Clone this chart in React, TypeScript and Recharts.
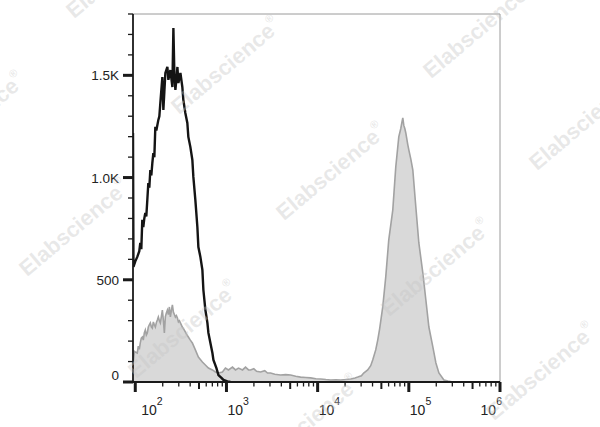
import React from "react";
import { ComposedChart, Area, Line, XAxis, YAxis, ReferenceLine } from "recharts";

// x values are log10 of fluorescence intensity
const xMajorDecades = [2, 3, 4, 5, 6];
const xMinorMultipliers = [2, 3, 4, 5, 6, 7, 8, 9];
const yTickValues = [0, 100, 200, 300, 400, 500, 600, 700, 800, 900, 1000, 1100, 1200, 1300, 1400, 1500, 1600, 1700, 1800];
const yTickLabels: Record<number, string> = { 0: "0", 500: "500", 1000: "1.0K", 1500: "1.5K" };

// black open histogram (control)
const controlHistogram: [number, number][] = [
  [1.975, 1218], [1.98, 563], [2.0, 590], [2.022, 612], [2.044, 640], [2.055, 680], [2.066, 650],
  [2.077, 793], [2.088, 758], [2.099, 800], [2.11, 827], [2.121, 810], [2.132, 890], [2.143, 973],
  [2.154, 950], [2.165, 1037], [2.176, 1010], [2.187, 1071], [2.198, 1120], [2.209, 1100], [2.22, 1248],
  [2.231, 1230], [2.253, 1282], [2.264, 1300], [2.275, 1365], [2.297, 1492], [2.308, 1331], [2.319, 1420],
  [2.33, 1512], [2.352, 1541], [2.363, 1478], [2.385, 1526], [2.407, 1443], [2.418, 1732], [2.429, 1500],
  [2.44, 1429], [2.451, 1480], [2.462, 1541], [2.473, 1463], [2.495, 1512], [2.516, 1443], [2.527, 1380],
  [2.549, 1316], [2.571, 1267], [2.582, 1199], [2.604, 1150], [2.626, 1086], [2.637, 1003], [2.659, 890],
  [2.681, 758], [2.692, 660], [2.714, 612], [2.736, 548], [2.747, 450], [2.769, 352], [2.791, 289],
  [2.802, 240], [2.824, 191], [2.846, 142], [2.857, 108], [2.89, 68], [2.912, 34], [2.945, 20],
  [2.967, 10], [3.011, 3], [3.044, 0],
];

// gray filled histogram (stained)
const stainedHistogram: [number, number][] = [
  [1.978, 98], [1.99, 150], [2.0, 147], [2.022, 142], [2.033, 175], [2.044, 160], [2.055, 191],
  [2.066, 215], [2.077, 220], [2.088, 205], [2.099, 240], [2.11, 254], [2.121, 230], [2.132, 240],
  [2.143, 269], [2.154, 280], [2.165, 289], [2.176, 270], [2.187, 264], [2.198, 294], [2.209, 280],
  [2.22, 269], [2.231, 290], [2.242, 303], [2.253, 318], [2.264, 300], [2.275, 289], [2.286, 320],
  [2.297, 352], [2.308, 303], [2.319, 240], [2.33, 320], [2.341, 338], [2.352, 352], [2.363, 330],
  [2.374, 367], [2.385, 318], [2.396, 350], [2.407, 377], [2.418, 342], [2.429, 330], [2.44, 318],
  [2.451, 325], [2.462, 313], [2.473, 294], [2.484, 300], [2.495, 289], [2.516, 269], [2.527, 262],
  [2.549, 245], [2.56, 235], [2.582, 220], [2.604, 205], [2.626, 191], [2.659, 157], [2.692, 122],
  [2.736, 98], [2.769, 83], [2.802, 68], [2.846, 59], [2.879, 49], [2.912, 44], [2.956, 49],
  [2.989, 68], [3.022, 59], [3.066, 73], [3.099, 59], [3.132, 68], [3.176, 59], [3.209, 73],
  [3.242, 59], [3.264, 59], [3.3, 65], [3.33, 52], [3.374, 49], [3.42, 55], [3.45, 44], [3.484, 44],
  [3.53, 38], [3.593, 34], [3.65, 36], [3.703, 34], [3.76, 28], [3.813, 24], [3.87, 22], [3.923, 20],
  [3.98, 16], [4.033, 15], [4.09, 12], [4.143, 10], [4.2, 11], [4.253, 10], [4.31, 12], [4.363, 15],
  [4.41, 20], [4.44, 24], [4.48, 30], [4.505, 44], [4.549, 59], [4.582, 80], [4.604, 108], [4.637, 157],
  [4.659, 205], [4.68, 260], [4.714, 367], [4.747, 514], [4.78, 695], [4.824, 841], [4.857, 1052],
  [4.89, 1199], [4.912, 1240], [4.923, 1267], [4.934, 1292], [4.945, 1255], [4.956, 1240], [4.967, 1218],
  [4.989, 1160], [5.0, 1135], [5.022, 1090], [5.044, 1037], [5.077, 856], [5.11, 680], [5.154, 533],
  [5.187, 401], [5.22, 269], [5.264, 171], [5.297, 93], [5.33, 44], [5.385, 10], [5.429, 5], [5.484, 0],
];

const watermarkText = "Elabscience";
const watermarkCenters: [number, number][] = [
  [121, -30], [226, 66], [478, 30], [-30, 121], [331, 172], [584, 122],
  [74, 228], [436, 268], [183, 330], [305, 424], [541, 372],
];

const controlData = controlHistogram.map(([x, c]) => ({ x, c }));
const stainedData = stainedHistogram.map(([x, c]) => ({ x, c }));

const xTicks: number[] = [];
xMajorDecades.forEach((d) => {
  xTicks.push(d);
  if (d < 6) xMinorMultipliers.forEach((m) => xTicks.push(d + Math.log10(m)));
});

const FONT = "'Liberation Sans', Arial, Helvetica, sans-serif";

function XTick(props: any) {
  const { x, y, payload } = props;
  const v: number = payload.value;
  const major = Math.abs(v - Math.round(v)) < 1e-6;
  const frac = v - Math.floor(v + 1e-9);
  const five = Math.abs(frac - Math.log10(5)) < 1e-6;
  const len = major ? 10 : five ? 7 : 4.5;
  const w = major ? 3 : five ? 2 : 1.3;
  const d = Math.round(v);
  const anchor = major && d === 6 ? "end" : "start";
  const dx = major ? (d === 2 ? 6 : d === 6 ? 2 : 1) : 0;
  return (
    <g>
      <line x1={x} x2={x} y1={y} y2={y + len} stroke="#1a1a1a" strokeWidth={w} />
      {major && (
        <text x={x + dx} y={y + 33} textAnchor={anchor} fontFamily={FONT} fontSize={14} fill="#222">
          10
          <tspan dy={-10} fontSize={10.5}>{d}</tspan>
        </text>
      )}
    </g>
  );
}

function YTick(props: any) {
  const { x, y, payload } = props;
  const v: number = payload.value;
  const label = yTickLabels[v];
  const major = label !== undefined;
  const len = major ? 10 : 5;
  const w = major ? 3 : 1.3;
  return (
    <g>
      <line x1={x - len} x2={x} y1={y} y2={y} stroke="#1a1a1a" strokeWidth={w} />
      {major && (
        <text x={x - 14} y={v === 0 ? y - 2 : y + 5} textAnchor="end" fontFamily={FONT} fontSize={13.5} fill="#222">
          {label}
        </text>
      )}
    </g>
  );
}

export default function App() {
  return (
    <div style={{ position: "relative", width: 600, height: 427, background: "#fff" }}>
      <style>{"body{margin:0;}"}</style>
      <ComposedChart width={600} height={427} margin={{ top: 14, right: 100, bottom: 0, left: 0 }}>
        <XAxis
          dataKey="x"
          type="number"
          domain={[1.975, 6]}
          allowDataOverflow
          ticks={xTicks}
          interval={0}
          tickLine={false}
          tickSize={0}
          tickMargin={0}
          tick={<XTick />}
          height={45}
          axisLine={{ stroke: "#1a1a1a", strokeWidth: 1.8 }}
        />
        <YAxis
          type="number"
          domain={[0, 1800]}
          allowDataOverflow
          ticks={yTickValues}
          interval={0}
          tickLine={false}
          tickSize={0}
          tickMargin={0}
          tick={<YTick />}
          width={133}
          axisLine={{ stroke: "#1a1a1a", strokeWidth: 1.8 }}
        />
        <ReferenceLine y={1800} stroke="#9a9a9a" strokeWidth={1} />
        <ReferenceLine x={6} stroke="#9a9a9a" strokeWidth={1} />
        <Area
          data={stainedData}
          dataKey="c"
          type="linear"
          fill="#d9d9d9"
          fillOpacity={1}
          stroke="#a2a2a2"
          strokeWidth={1.6}
          isAnimationActive={false}
          dot={false}
          activeDot={false}
        />
        <Line
          data={controlData}
          dataKey="c"
          type="linear"
          stroke="#141414"
          strokeWidth={2.4}
          dot={false}
          activeDot={false}
          isAnimationActive={false}
        />
      </ComposedChart>
      <svg width={600} height={427} style={{ position: "absolute", left: 0, top: 0, pointerEvents: "none" }}>
        {watermarkCenters.map(([cx, cy], i) => (
          <text
            key={i}
            transform={`translate(${cx},${cy}) rotate(-40)`}
            textAnchor="middle"
            dominantBaseline="central"
            fontFamily={FONT}
            fontWeight="bold"
            fontSize={22}
            fill="#c4c4c4"
            fillOpacity={0.38}
          >
            {watermarkText}
            <tspan fontSize={11} dy={-9}>®</tspan>
          </text>
        ))}
      </svg>
    </div>
  );
}
